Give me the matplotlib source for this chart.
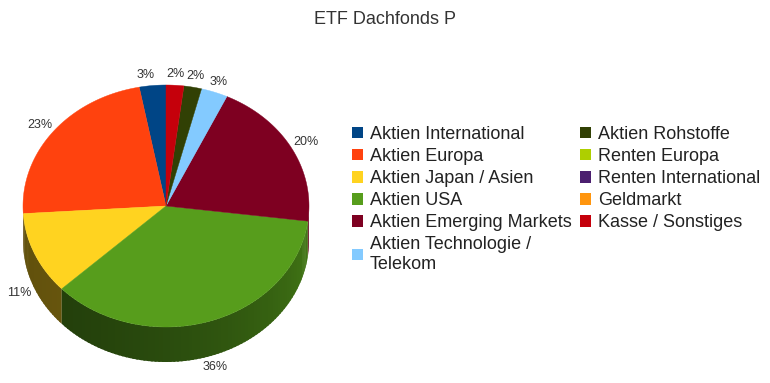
import numpy as np
import matplotlib
matplotlib.use('Agg')
import matplotlib.pyplot as plt
from matplotlib.patches import Polygon, Patch
from matplotlib.colors import to_rgb

plt.rcParams['font.family'] = ['Liberation Sans', 'DejaVu Sans']

title = 'ETF Dachfonds P'
categories = ['Aktien International', 'Aktien Europa', 'Aktien Japan / Asien', 'Aktien USA',
              'Aktien Emerging Markets', 'Aktien Technologie /\nTelekom', 'Aktien Rohstoffe',
              'Renten Europa', 'Renten International', 'Geldmarkt', 'Kasse / Sonstiges']
shares = [3, 23, 11, 36, 20, 3, 2, 0, 0, 0, 2]
colors = ['#004586', '#ff420e', '#ffd320', '#579d1c', '#7e0021', '#83caff', '#314004',
          '#aecf00', '#4b1f6f', '#ff950e', '#c5000b']

# pie geometry in pixels
cx, cy = 166, 206
rx, ry = 143, 121
depth = 35

fig = plt.figure(figsize=(7.7, 3.83), dpi=100)
ax = fig.add_axes([0, 0, 1, 1])
ax.set_xlim(0, 770)
ax.set_ylim(383, 0)
ax.axis('off')


def ell(t):
    r = np.radians(t)
    return cx + rx * np.cos(r), cy - ry * np.sin(r)


def shade(c, f):
    return tuple(min(1, v * f) for v in to_rgb(c))


total = sum(shares)
start = 90.0
slices = []
for v, c in zip(shares, colors):
    span = 360.0 * v / total
    slices.append((start, start + span, v, c))
    start += span

# side walls (only the front half is visible), drawn as overlapping strips
for a0, a1, v, c in slices:
    if v == 0:
        continue
    for off in (0, 360, -360):
        lo = max(a0 + off, 180)
        hi = min(a1 + off, 360)
        if hi <= lo:
            continue
        ts = np.linspace(lo, hi, max(2, int((hi - lo) / 1.5) + 1))
        for t0, t1 in zip(ts[:-1], ts[1:]):
            t1b = min(t1 + 0.8, hi)
            tt = np.linspace(t0, t1b, 4)
            xs, ys = ell(tt)
            pts = list(zip(xs, ys)) + list(zip(xs[::-1], ys[::-1] + depth))
            f = 0.38 + 0.42 * ((0.5 * (t0 + t1) - 180) / 180) ** 2
            ax.add_patch(Polygon(pts, closed=True, fc=shade(c, f), ec='none', lw=0))

# top surface
for a0, a1, v, c in slices:
    if v == 0:
        continue
    ts = np.linspace(a0, a1, max(2, int(a1 - a0) + 2))
    xs, ys = ell(ts)
    pts = [(cx, cy)] + list(zip(xs, ys))
    ax.add_patch(Polygon(pts, closed=True, fc=c, ec=c, lw=0.3))

# percentage labels
for a0, a1, v, c in slices:
    if v == 0:
        continue
    m = np.radians(0.5 * (a0 + a1))
    txt = f'{v}%'
    hw = 4.5 * len(txt)
    x = cx + (146 + hw) * np.cos(m)
    if abs(np.cos(m)) < 0.15:
        x += -6 if np.cos(m) < 0 else 0
    y = cy - 132 * np.sin(m)
    if np.sin(m) < 0:
        y += depth
    ax.text(x, y, txt, ha='center', va='center', fontsize=9, color='#333333')

fig.text(0.5, 1 - 20 / 383, title, ha='center', va='center', fontsize=13, color='#333333')

handles = [Patch(fc=c, ec='none') for c in colors]
fig.legend(handles, categories, ncol=2, loc='upper left', bbox_to_anchor=(343 / 770, 1 - 117 / 383),
           frameon=False, fontsize=13, handlelength=0.6, handleheight=0.6, handletextpad=0.4,
           labelspacing=0.28, columnspacing=0.45, borderpad=0, labelcolor='#222222')

fig.savefig('out.png', dpi=100)
